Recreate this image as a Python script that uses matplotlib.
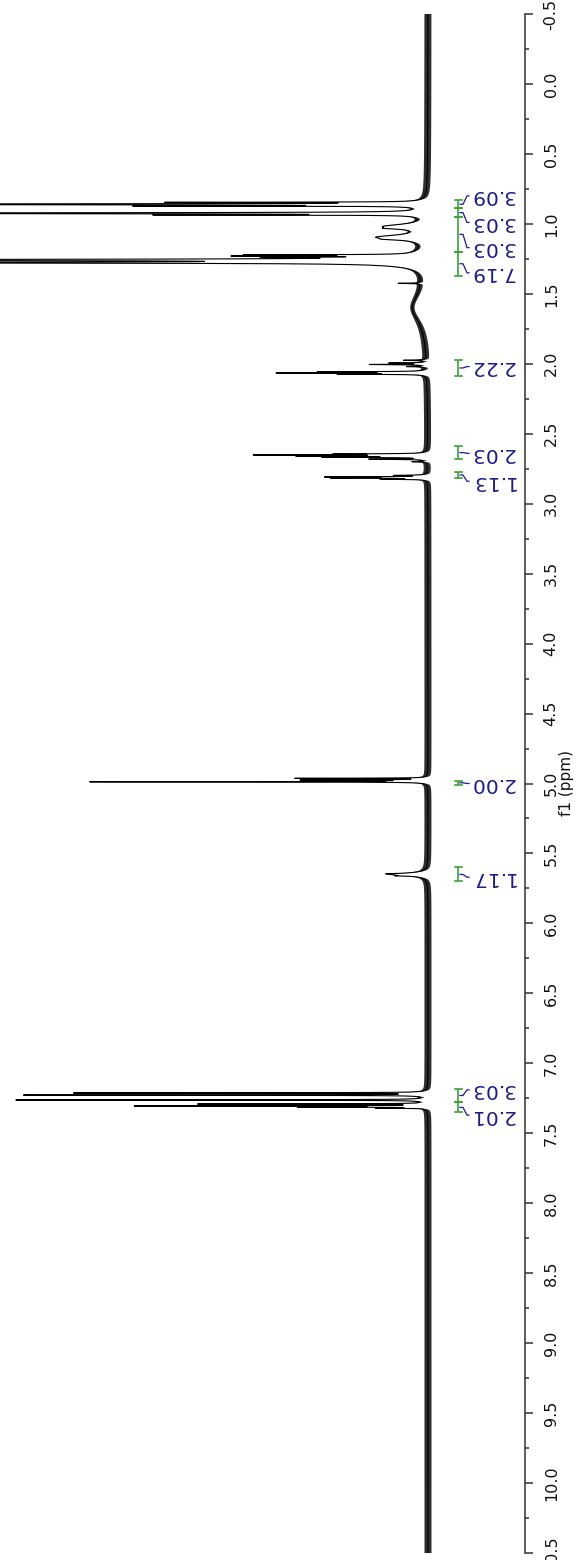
import numpy as np
import matplotlib
matplotlib.use("Agg")
import matplotlib.pyplot as plt

plt.rcParams['font.family'] = ['DejaVu Sans']
plt.rcParams['axes.unicode_minus'] = False

# chemical shift window (ppm)
shift_lo, shift_hi = -0.5, 10.5

# resolved lines: position (ppm), height (a.u.), half-width (ppm)
peak_ppm = [0.846, 0.860, 0.872, 0.924, 0.936,
            1.018, 1.032, 1.095, 1.110,
            1.222, 1.230, 1.240, 1.258, 1.277, 1.270,
            1.425, 1.600,
            1.975, 1.995, 2.005, 2.020, 2.058, 2.066, 2.074,
            2.645, 2.652, 2.660, 2.668, 2.682, 2.700,
            2.798, 2.809, 2.816, 2.825,
            4.963, 4.975, 4.981, 4.988,
            5.650, 5.645, 5.660,
            7.212, 7.227, 7.262, 7.291, 7.305, 7.312, 7.320]
peak_height = [230, 1500, 250, 1500, 230,
               38, 15, 45, 15,
               150, 150, 100, 1500, 1000, 60,
               22, 15,
               22, 35, 55, 18, 100, 140, 80,
               80, 160, 115, 95, 55, 14,
               30, 95, 88, 42,
               130, 120, 28, 335,
               35, 12, 12,
               350, 400, 410, 225, 285, 115, 45]
peak_hw = [0.0015, 0.002, 0.0015, 0.002, 0.0015,
           0.018, 0.006, 0.018, 0.006,
           0.002, 0.002, 0.002, 0.0025, 0.0025, 0.025,
           0.0015, 0.13,
           0.002, 0.002, 0.002, 0.002, 0.002, 0.002, 0.002,
           0.002, 0.002, 0.002, 0.002, 0.002, 0.002,
           0.002, 0.002, 0.002, 0.002,
           0.0015, 0.0015, 0.0015, 0.0015,
           0.012, 0.002, 0.002,
           0.0015, 0.0015, 0.0015, 0.0015, 0.0015, 0.0015, 0.0015]

# integral regions and their values
int_from = [0.83, 0.89, 0.95, 1.20, 1.97, 2.59, 2.77, 4.98, 5.60, 7.18, 7.28]
int_to = [0.89, 0.95, 1.20, 1.37, 2.09, 2.68, 2.82, 5.01, 5.70, 7.28, 7.35]
int_value = ["3.09", "3.03", "3.03", "7.19", "2.22", "2.03", "1.13",
             "2.00", "1.17", "3.03", "2.01"]
int_label_at = [0.80, 0.99, 1.17, 1.35, 2.02, 2.64, 2.84, 5.00, 5.67, 7.19, 7.37]

# axis ticks
tick_ppm = [-0.5, 0.0, 0.5, 1.0, 1.5, 2.0, 2.5, 3.0, 3.5, 4.0, 4.5, 5.0,
            5.5, 6.0, 6.5, 7.0, 7.5, 8.0, 8.5, 9.0, 9.5, 10.0, 10.5]
tick_text = ["-0.5", "0.0", "0.5", "1.0", "1.5", "2.0", "2.5", "3.0", "3.5",
             "4.0", "4.5", "5.0", "5.5", "6.0", "6.5", "7.0", "7.5", "8.0",
             "8.5", "9.0", "9.5", "10.0", "10.5"]
minor_ppm = [-0.25, 0.25, 0.75, 1.25, 1.75, 2.25, 2.75, 3.25, 3.75, 4.25,
             4.75, 5.25, 5.75, 6.25, 6.75, 7.25, 7.75, 8.25, 8.75, 9.25,
             9.75, 10.25]

# build the spectrum from the line list (Lorentzian lines)
ppm = np.arange(shift_lo, shift_hi + 1e-9, 0.00025)
spec = np.zeros_like(ppm)
for p, h, w in zip(peak_ppm, peak_height, peak_hw):
    spec += h * w ** 2 / (w ** 2 + (ppm - p) ** 2)

# baseline noise envelope, fading where the signal dominates
noise_amp = 3.5
band = noise_amp / (1.0 + (spec / 20.0) ** 2)

fig = plt.figure(figsize=(5.83, 15.6), dpi=100)
ax = fig.add_axes([0.0, 7 / 1560, 525 / 583, 1539 / 1560])

ax.fill_betweenx(ppm, spec - band, spec + band, color="black", alpha=0.82,
                 linewidth=0)
ax.plot(spec, ppm, color="black", linewidth=0.8)

ax.set_ylim(shift_hi, shift_lo)
ax.set_xlim(428, -97)

# integrals
green = "#38a335"
navy = "#1c1c8a"
bar_x = -30
cap = 3.5
for a, b, v, lab in zip(int_from, int_to, int_value, int_label_at):
    ax.plot([bar_x, bar_x], [a, b], color=green, linewidth=1.2,
            solid_capstyle="butt")
    for e in (a, b):
        ax.plot([bar_x + cap, bar_x - cap], [e, e], color=green, linewidth=1.2)
    mid = 0.5 * (a + b)
    ax.plot([bar_x - 2, bar_x - 5, bar_x - 9, bar_x - 11],
            [mid, mid, lab, lab], color=navy, linewidth=0.9)
    ax.text(bar_x - 11.5, lab, v, rotation=180, ha="left", va="center",
            fontsize=14.5, color=navy)

# axis styling
for side in ("left", "top", "bottom"):
    ax.spines[side].set_visible(False)
ax.spines["right"].set_color("#333333")
ax.spines["right"].set_linewidth(1.1)
ax.set_xticks([])
ax.yaxis.tick_right()
ax.set_yticks(tick_ppm)
ax.set_yticklabels(tick_text, rotation=90, va="center", fontsize=11.5,
                   color="#111111")
ax.set_yticks(minor_ppm, minor=True)
ax.tick_params(axis="y", which="major", length=5.5, width=1.1,
               direction="out", pad=8, color="#333333")
ax.tick_params(axis="y", which="minor", length=3, width=1.1,
               direction="out", color="#333333")
ax.yaxis.set_label_position("right")
ax.set_ylabel("f1 (ppm)", fontsize=11, rotation=90, labelpad=0,
              color="#111111")

fig.savefig("out.png", dpi=100)
